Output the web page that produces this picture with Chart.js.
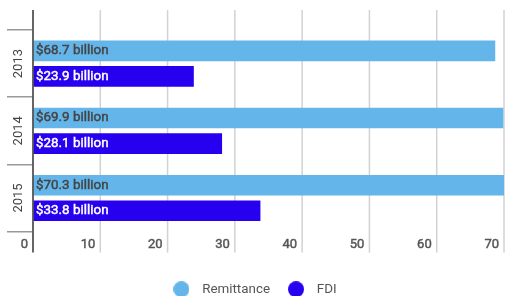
<!DOCTYPE html>
<html>
<head>
<meta charset="utf-8">
<script src="https://cdn.jsdelivr.net/npm/chart.js@4/dist/chart.umd.min.js"></script>
<style>
  html, body { margin: 0; padding: 0; background: #fff; overflow: hidden; }
</style>
</head>
<body>
<canvas id="bars-chart" width="505" height="306"></canvas>
<script>
/**
 * Data
 */
const years = ['2013', '2014', '2015'];
const remittance = [68.7, 69.9, 70.3];
const fdi = [23.9, 28.1, 33.8];

/**
 * Helpers
 */
// round legend marker, drawn as a small canvas so the spacing can be set
const dot = (color) => {
  const c = document.createElement('canvas');
  c.width = 16; c.height = 16;
  const g = c.getContext('2d');
  g.fillStyle = color;
  g.beginPath();
  g.arc(8, 8, 8, 0, Math.PI * 2);
  g.fill();
  return c;
};

// vertical grid + left axis running past the bars, and the value labels
const framePlugin = {
  id: 'frame',
  beforeDatasetsDraw(chart) {
    const { ctx, chartArea, scales: { x } } = chart;
    ctx.save();
    ctx.strokeStyle = '#d2d2d2';
    ctx.lineWidth = 1.5;
    x.ticks.forEach(t => {
      if (t.value === 0) return;
      const px = x.getPixelForValue(t.value);
      ctx.beginPath();
      ctx.moveTo(px, chartArea.top - 20);
      ctx.lineTo(px, chartArea.bottom + 21);
      ctx.stroke();
    });
    ctx.restore();
  },
  afterDatasetsDraw(chart) {
    const { ctx, chartArea, scales: { x } } = chart;
    ctx.save();
    chart.data.datasets.forEach((ds, i) => {
      const meta = chart.getDatasetMeta(i);
      ctx.font = '13.4px Roboto';
      ctx.fillStyle = ds.labelColor;
      ctx.strokeStyle = ds.labelColor;
      ctx.lineWidth = 0.45;
      ctx.textBaseline = 'middle';
      ctx.textAlign = 'left';
      meta.data.forEach((bar, j) => {
        const txt = '$' + ds.data[j].toFixed(1) + ' billion';
        ctx.fillText(txt, bar.base + 3, bar.y);
        ctx.strokeText(txt, bar.base + 3, bar.y);
      });
    });
    const x0 = x.getPixelForValue(0);
    ctx.strokeStyle = '#555';
    ctx.lineWidth = 1.8;
    ctx.beginPath();
    ctx.moveTo(x0, chartArea.top - 20);
    ctx.lineTo(x0, chartArea.bottom + 21);
    ctx.stroke();
    ctx.restore();
  }
};

/**
 * Chart
 */
const createGraphic = () => {
  const ctx = document.getElementById('bars-chart').getContext('2d');
  Chart.defaults.font.family = 'Roboto';

  new Chart(ctx, {
    type: 'bar',
    data: {
      labels: years,
      datasets: [
        {
          label: 'Remittance',
          data: remittance,
          backgroundColor: '#63b5ea',
          pointStyle: dot('#63b5ea'),
          labelColor: '#444',
          categoryPercentage: 0.76,
          barPercentage: 0.81
        },
        {
          label: 'FDI',
          data: fdi,
          backgroundColor: '#2800f0',
          pointStyle: dot('#2800f0'),
          labelColor: '#fff',
          categoryPercentage: 0.76,
          barPercentage: 0.81
        }
      ]
    },
    options: {
      indexAxis: 'y',
      responsive: false,
      animation: false,
      layout: { padding: { top: 30, right: 1, left: 0, bottom: 0 } },
      scales: {
        x: {
          min: 0,
          max: 70,
          ticks: {
            stepSize: 10,
            align: 'end',
            labelOffset: -5,
            padding: 0,
            color: '#555',
            textStrokeColor: '#555',
            textStrokeWidth: 0.45,
            font: { size: 13 }
          },
          grid: { display: false, drawTicks: true, tickLength: 5 },
          border: { display: false },
          afterFit: (s) => { s.height = 39; }
        },
        y: {
          ticks: {
            minRotation: 90,
            maxRotation: 90,
            crossAlign: 'center',
            padding: -26,
            color: '#444',
            font: { size: 13 }
          },
          grid: {
            drawOnChartArea: false,
            tickLength: 26,
            color: '#999',
            lineWidth: 1.5
          },
          border: { display: false },
          afterFit: (s) => { s.width = 33; }
        }
      },
      plugins: {
        legend: {
          position: 'bottom',
          labels: {
            usePointStyle: true,
            pointStyleWidth: 28,
            padding: 12,
            color: '#555',
            font: { size: 13.4 }
          }
        },
        tooltip: { enabled: false }
      }
    },
    plugins: [framePlugin]
  });
};

/**
 * Events
 */
document.addEventListener('DOMContentLoaded', () => {
  createGraphic();
});
</script>
</body>
</html>
